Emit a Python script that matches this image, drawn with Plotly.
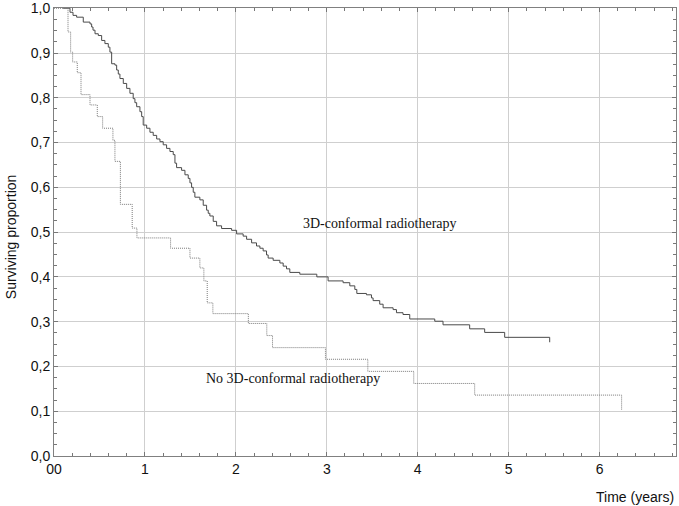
import plotly.graph_objects as go

# Kaplan-Meier steps: time (years) and surviving proportion after each drop
conf_time = [0.10, 0.176, 0.209, 0.249, 0.322, 0.396, 0.414, 0.429, 0.451, 0.487, 0.524, 0.560,
             0.597, 0.615, 0.634, 0.670, 0.689, 0.707, 0.725, 0.762, 0.799, 0.835, 0.871, 0.890,
             0.909, 0.945, 0.964, 0.981, 1.019, 1.055, 1.091, 1.129, 1.165, 1.201, 1.238, 1.275,
             1.311, 1.330, 1.348, 1.403, 1.440, 1.476, 1.495, 1.513, 1.531, 1.549, 1.604, 1.641,
             1.678, 1.696, 1.714, 1.751, 1.788, 1.843, 1.953, 2.008, 2.080, 2.118, 2.173, 2.227,
             2.264, 2.300, 2.337, 2.355, 2.410, 2.484, 2.520, 2.557, 2.593, 2.703, 2.890, 3.014,
             3.179, 3.253, 3.308, 3.330, 3.436, 3.491, 3.509, 3.582, 3.619, 3.729, 3.766, 3.838,
             3.912, 4.187, 4.278, 4.571, 4.736, 4.956, 5.451]
conf_surv = [1.000, 0.991, 0.984, 0.980, 0.969, 0.965, 0.958, 0.951, 0.943, 0.939, 0.928, 0.921,
             0.913, 0.902, 0.876, 0.873, 0.862, 0.853, 0.843, 0.832, 0.821, 0.810, 0.798, 0.789,
             0.780, 0.769, 0.758, 0.739, 0.732, 0.723, 0.716, 0.708, 0.702, 0.695, 0.687, 0.680,
             0.673, 0.654, 0.644, 0.638, 0.628, 0.620, 0.610, 0.600, 0.589, 0.578, 0.572, 0.560,
             0.549, 0.542, 0.536, 0.524, 0.514, 0.508, 0.504, 0.496, 0.491, 0.484, 0.476, 0.469,
             0.464, 0.458, 0.449, 0.442, 0.437, 0.431, 0.424, 0.418, 0.410, 0.406, 0.400, 0.391,
             0.387, 0.380, 0.372, 0.363, 0.360, 0.353, 0.347, 0.339, 0.331, 0.327, 0.320, 0.316,
             0.306, 0.301, 0.293, 0.284, 0.276, 0.265, 0.254]

no_conf_time = [0.0, 0.154, 0.183, 0.205, 0.256, 0.297, 0.396, 0.476, 0.535, 0.648, 0.670, 0.730,
                0.860, 0.912, 1.282, 1.495, 1.604, 1.648, 1.685, 1.747, 2.137, 2.340, 2.403,
                2.985, 3.451, 3.956, 4.626, 6.242]
no_conf_surv = [1.000, 0.947, 0.902, 0.880, 0.856, 0.807, 0.784, 0.758, 0.732, 0.705, 0.658, 0.562,
                0.509, 0.487, 0.464, 0.442, 0.420, 0.391, 0.342, 0.318, 0.296, 0.269, 0.242,
                0.216, 0.189, 0.162, 0.136, 0.102]

x_ticks = [0, 1, 2, 3, 4, 5, 6]
x_tick_text = ["00", "1", "2", "3", "4", "5", "6"]
y_ticks = [0.0, 0.1, 0.2, 0.3, 0.4, 0.5, 0.6, 0.7, 0.8, 0.9, 1.0]
y_tick_text = ["0,0", "0,1", "0,2", "0,3", "0,4", "0,5", "0,6", "0,7", "0,8", "0,9", "1,0"]

SANS = "Liberation Sans, Arial, sans-serif"
SERIF = "Liberation Serif, Times New Roman, serif"

fig = go.Figure()

fig.add_trace(go.Scatter(
    x=conf_time, y=conf_surv,
    mode="lines", line=dict(color="#4a4a4a", width=1, shape="hv"),
    name="3D-conformal radiotherapy", showlegend=False,
))
fig.add_trace(go.Scatter(
    x=no_conf_time, y=no_conf_surv,
    mode="lines", line=dict(color="#7a7a7a", width=1, dash="1px,1px", shape="hv"),
    name="No 3D-conformal radiotherapy", showlegend=False,
))

# curve labels
fig.add_annotation(x=2.72, y=0.52, text="3D-conformal radiotherapy", showarrow=False,
                   xanchor="left", yanchor="middle", font=dict(family=SERIF, size=14, color="#111"))
fig.add_annotation(x=1.645, y=0.173, text="No 3D-conformal radiotherapy", showarrow=False,
                   xanchor="left", yanchor="middle", font=dict(family=SERIF, size=14, color="#111"))
# axis titles as annotations so they sit where the original puts them
fig.add_annotation(x=1.0, y=-0.091, xref="paper", yref="paper", text="Time (years)",
                   showarrow=False, xanchor="right", yanchor="middle",
                   font=dict(family=SANS, size=14, color="#111"))
fig.add_annotation(x=-0.068, y=0.49, xref="paper", yref="paper", text="Surviving proportion",
                   showarrow=False, textangle=-90, xanchor="center", yanchor="middle",
                   font=dict(family=SANS, size=14, color="#111"))

fig.update_layout(
    width=679, height=506,
    margin=dict(l=54, r=3, t=8, b=50),
    paper_bgcolor="white", plot_bgcolor="white",
    font=dict(family=SANS, size=14, color="#111"),
)

fig.update_xaxes(
    range=[0, 6.84], automargin=False, ticklabeloverflow="allow",
    tickmode="array", tickvals=x_ticks, ticktext=x_tick_text,
    ticks="inside", ticklen=4, tickcolor="#777",
    minor=dict(dtick=0.2, ticks="inside", ticklen=3, tickcolor="#777", showgrid=False),
    showgrid=True, gridcolor="#cfcfcf", gridwidth=1,
    showline=True, linecolor="#808080", linewidth=1, mirror="allticks",
    zeroline=False,
    tickfont=dict(family=SANS, size=14, color="#111"),
)
fig.update_yaxes(
    range=[0, 1.0005], automargin=False, ticklabeloverflow="allow",
    tickmode="array", tickvals=y_ticks, ticktext=y_tick_text,
    ticks="inside", ticklen=4, tickcolor="#777",
    minor=dict(dtick=0.025, ticks="inside", ticklen=3, tickcolor="#777", showgrid=False),
    showgrid=True, gridcolor="#cfcfcf", gridwidth=1,
    showline=True, linecolor="#808080", linewidth=1, mirror="allticks",
    zeroline=False,
    tickfont=dict(family=SANS, size=14, color="#111"),
)

# drop the page's default body margin so the figure fills the window exactly
fig.write_html("out.html", config={"displayModeBar": False},
               post_script="document.body.style.margin='0';document.body.style.overflow='hidden';")
